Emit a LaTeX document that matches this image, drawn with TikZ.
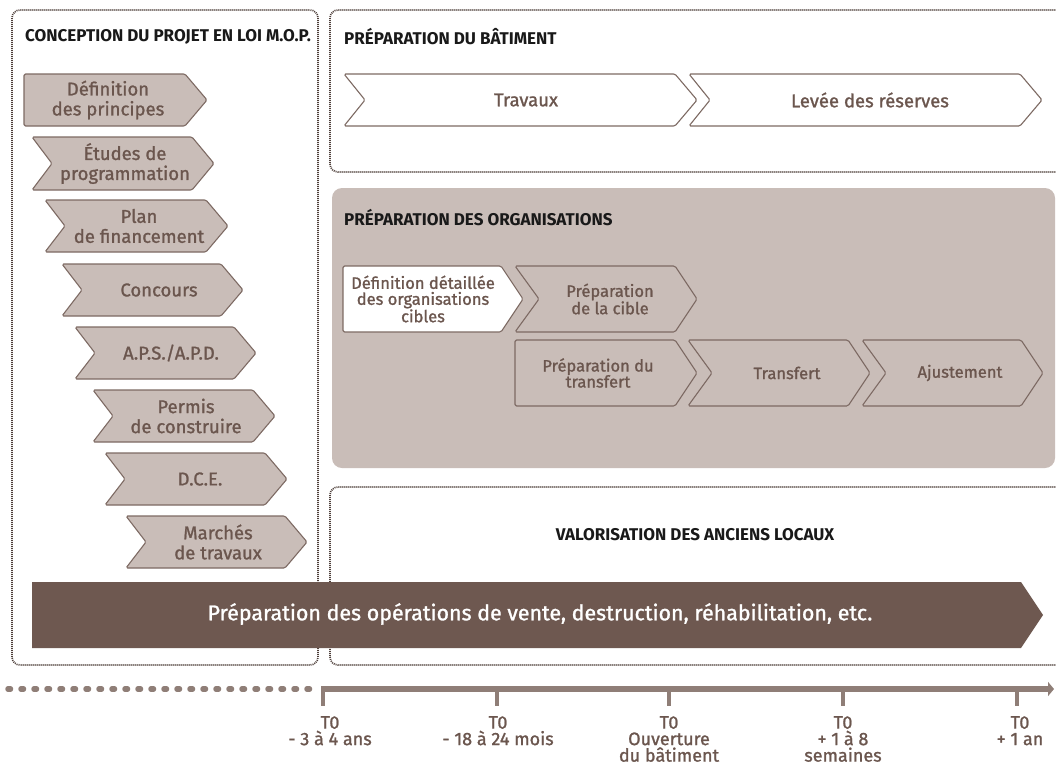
\documentclass[tikz,border=0pt]{standalone}
\usepackage{fontspec}
\setmainfont{Fira Sans}
\newfontfamily\medfont{Fira Sans}[FakeBold=1.2]
\usetikzlibrary{arrows.meta}
\definecolor{boxgray}{HTML}{C9BDB8}
\definecolor{darkbar}{HTML}{6E5850}
\definecolor{edgec}{HTML}{7D6A63}
\definecolor{txtc}{HTML}{6B564E}
\definecolor{dotc}{HTML}{4E3F3A}
\definecolor{tlc}{HTML}{8F7E77}
\tikzset{
  chevline/.style={draw=edgec, line width=1.1pt, line join=round, rounded corners=1.5pt},
  chvtext/.style={align=center, inner sep=0pt, text=txtc, font=\medfont\fontsize{18.5}{20}\selectfont},
  orgtext/.style={align=center, inner sep=0pt, text=txtc, font=\medfont\fontsize{16.5}{16}\selectfont},
  header/.style={inner sep=0pt, text=black!90, font=\bfseries\fontsize{17}{19}\selectfont},
  dotbox/.style={draw=dotc, line width=1.7pt, dash pattern=on 1pt off 1pt, rounded corners=8pt},
  tltext/.style={align=center, inner sep=0pt, text=txtc, anchor=north, font=\medfont\fontsize{18}{16.5}\selectfont},
}
% #1 name, #2 x1, #3 x2, #4 y1, #5 y2, #6 notch depth, #7 fill, #8 text x, #9 text
\newcommand\chv[9]{%
  \draw[chevline, fill=#7] (#2,#4) -- (#3-22,#4) -- (#3,{(#4+#5)/2}) -- (#3-22,#5) -- (#2,#5) -- (#2+#6,{(#4+#5)/2}) -- cycle;
  \node[chvtext] (#1) at (#8,{(#4+#5)/2}) {#9};
}
\newcommand\ochv[9]{%
  \draw[chevline, fill=#7] (#2,#4) -- (#3-22,#4) -- (#3,{(#4+#5)/2}) -- (#3-22,#5) -- (#2,#5) -- (#2+#6,{(#4+#5)/2}) -- cycle;
  \node[orgtext] (#1) at (#8,{(#4+#5)/2}) {#9};
}
\begin{document}
\begin{tikzpicture}[x=1pt,y=-1pt]
\clip (0,0) rectangle (1056,774);
\fill[white] (0,0) rectangle (1056,774);

% boxes
\draw[dotbox] (12,10) rectangle (318,665);
\draw[dotbox] (330,10) rectangle (1070,172);
\fill[boxgray, rounded corners=10pt] (332,188) rectangle (1055,468);
\draw[dotbox] (330,487) rectangle (1070,665);

% headers
\node[header, anchor=west] (hconc) at (25,37) {CONCEPTION DU PROJET EN LOI M.O.P.};
\node[header, anchor=west] (hbat) at (344,37) {PRÉPARATION DU BÂTIMENT};
\node[header, anchor=west] (horg) at (344,218) {PRÉPARATION DES ORGANISATIONS};
\node[header] (hval) at (695,535) {VALORISATION DES ANCIENS LOCAUX};

% left column
\chv{c1}{24}{207}{74}{126}{0}{boxgray}{108}{Définition\\des principes}
\chv{c2}{32}{214}{137}{190}{20}{boxgray}{125}{Études de\\programmation}
\chv{c3}{45}{228}{200}{252}{20}{boxgray}{139}{Plan\\de financement}
\chv{c4}{62}{243}{264}{316}{20}{boxgray}{159}{Concours}
\chv{c5}{75}{256}{327}{379}{20}{boxgray}{171}{A.P.S./A.P.D.}
\chv{c6}{93}{275}{390}{442}{20}{boxgray}{186}{Permis\\de construire}
\chv{c7}{105}{287}{453}{505}{20}{boxgray}{200}{D.C.E.}
\chv{c8}{126}{307}{516}{568}{20}{boxgray}{218}{Marchés\\de travaux}

% building
\chv{b1}{344}{697}{74}{126}{21}{white}{526}{Travaux}
\chv{b2}{689}{1042}{74}{126}{21}{white}{870}{Levée des réserves}

% organisations
\ochv{o1}{343}{523}{266}{332}{0}{white}{423}{Définition détaillée\\des organisations\\cibles}
\ochv{o2}{515}{697}{266}{332}{24}{boxgray}{610}{Préparation\\de la cible}
\ochv{o3}{515}{697}{340}{406}{0}{boxgray}{598}{Préparation du\\transfert}
\ochv{o4}{688}{870}{340}{406}{24}{boxgray}{787}{Transfert}
\ochv{o5}{862}{1043}{340}{406}{24}{boxgray}{960}{Ajustement}

% dark bar
\fill[darkbar] (32,582) -- (1021,582) -- (1043,615) -- (1021,648) -- (32,648) -- cycle;
\node[inner sep=0pt, text=white, font=\medfont\fontsize{21.4}{23}\selectfont] (bar) at (540,614) {Préparation des opérations de vente, destruction, réhabilitation, etc.};

% timeline
\coordinate (d0) at (8,689);
\coordinate (d1) at (318,689);
\coordinate (l0) at (321,689);
\coordinate (l1) at (1054,689);
\draw[tlc, line width=5.5pt, line cap=round, dash pattern=on 2.5pt off 10.5pt] (d0) -- (d1);
\draw[tlc, line width=6pt, -{Triangle[length=6pt,width=14pt]}] (l0) -- (l1);
\foreach \n/\x in {1/323,2/497,3/669,4/843,5/1017}{
  \coordinate (t\n) at (\x,689);
  \coordinate (b\n) at (\x,706);
  \draw[tlc, line width=4.5pt] (t\n) -- (b\n);
}
\node[tltext] (lab1) at (330,716) {T0\\- 3 à 4 ans};
\node[tltext] (lab2) at (498,716) {T0\\- 18 à 24 mois};
\node[tltext] (lab3) at (669,716) {T0\\Ouverture\\du bâtiment};
\node[tltext] (lab4) at (843,716) {T0\\+ 1 à 8\\semaines};
\node[tltext] (lab5) at (1020,716) {T0\\+ 1 an};
\end{tikzpicture}
\end{document}
